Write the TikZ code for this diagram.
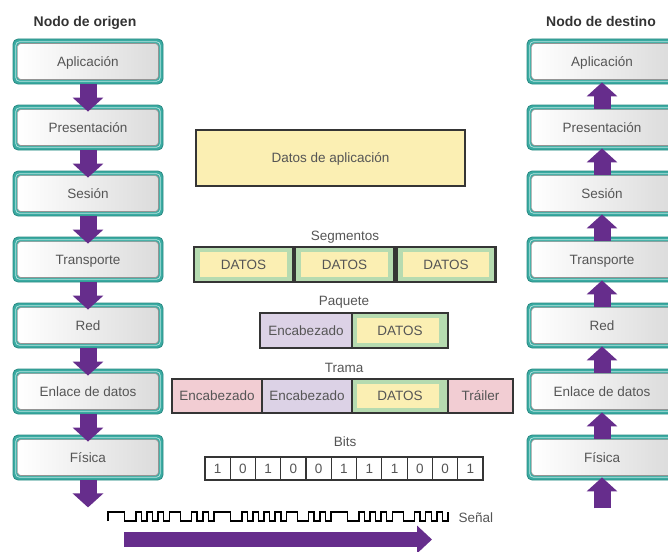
\documentclass[tikz,border=0pt]{standalone}
\usepackage{fontspec}
\setmainfont{Liberation Sans}
\usetikzlibrary{calc,arrows.meta}

\definecolor{tealband}{HTML}{3AABA2}
\definecolor{tealedge}{HTML}{2A8A83}
\definecolor{teallight}{HTML}{BCE5E1}
\definecolor{arrowpurple}{HTML}{662D8C}
\definecolor{datayellow}{HTML}{FBEFB3}
\definecolor{segmentgreen}{HTML}{B6DBB0}
\definecolor{headerlilac}{HTML}{DCD2E6}
\definecolor{headerpink}{HTML}{F2CDD3}
\definecolor{labelgray}{HTML}{555555}
\definecolor{framegray}{HTML}{353535}
\definecolor{titlegray}{HTML}{333333}

\begin{document}
\begin{tikzpicture}[x=1pt,y=-1pt,
  txt/.style={font=\fontsize{13.5}{16}\selectfont, text=labelgray},
  title/.style={font=\fontsize{14}{16}\selectfont\bfseries, text=titlegray},
  layer/.style={txt, rectangle, rounded corners=5pt, minimum width=150pt,
    minimum height=45pt, inner sep=0pt, text height=9.7pt, text depth=0pt,
    fill=tealband, draw=tealedge, line width=0.8pt,
    path picture={
      \draw[teallight, line width=0.7pt, rounded corners=3.5pt]
        ($(path picture bounding box.south west)+(2.8pt,2.8pt)$) rectangle
        ($(path picture bounding box.north east)+(-2.8pt,-2.8pt)$);
      \shadedraw[left color=white, right color=black!14, draw=black!42,
        line width=0.7pt, rounded corners=3pt]
        ($(path picture bounding box.south west)+(4.6pt,4.6pt)$) rectangle
        ($(path picture bounding box.north east)+(-4.6pt,-4.6pt)$);
    }},
  blkarrow/.style={arrowpurple, line width=17pt,
    -{Triangle[width=30pt,length=14pt]}},
  field/.style={txt, rectangle, draw=framegray, line width=1.8pt,
    inner sep=0pt, text height=9.7pt, text depth=0pt},
  datafield/.style={field, fill=segmentgreen,
    path picture={
      \fill[datayellow]
        ($(path picture bounding box.south west)+(4.6pt,4.6pt)$) rectangle
        ($(path picture bounding box.north east)+(-9pt,-4.6pt)$);
    }},
  segfield/.style={field, fill=segmentgreen, line width=2.2pt,
    minimum width=99pt, minimum height=35pt,
    path picture={
      \fill[datayellow]
        ($(path picture bounding box.south west)+(6pt,5pt)$) rectangle
        ($(path picture bounding box.north east)+(-6.5pt,-5pt)$);
    }},
  bitcell/.style={txt, rectangle, draw=framegray, line width=1.2pt,
    minimum width=25.27pt, minimum height=23pt, inner sep=0pt,
    text height=9.7pt, text depth=0pt},
]
\useasboundingbox (0,0) rectangle (668,551);
\clip (0,0) rectangle (668,551);

% ---------- headings ----------
\node[title, anchor=base] (srctitle) at (85,27) {Nodo de origen};
\node[title, anchor=base] (dsttitle) at (601,27) {Nodo de destino};

% ---------- protocol stacks ----------
\foreach \name [count=\k from 0] in {Aplicación,Presentación,Sesión,Transporte,Red,Enlace de datos,Física} {
  \node[layer] (l\k) at (88,{61.5+66*\k}) {\name};
  \node[layer] (r\k) at (602,{61.5+66*\k}) {\name};
}

% sending side: data travels down the stack
\foreach \k [evaluate=\k as \n using int(\k+1)] in {0,...,5} {
  \draw[blkarrow] (l\k.south) -- ($(l\n.north)+(0,7)$);
}
\coordinate (lout) at ($(l6.south)+(0,27)$);
\draw[blkarrow] (l6.south) -- (lout);

% receiving side: data travels up the stack
\foreach \k [evaluate=\k as \n using int(\k+1)] in {0,...,5} {
  \draw[blkarrow] ($(r\n.north)+(0,4)$) -- ($(r\k.south)+(0,-2)$);
}
\coordinate (rin) at ($(r6.south)+(0,28)$);
\draw[blkarrow] (rin) -- ($(r6.south)+(0,-3)$);

% ---------- application data ----------
\node[field, fill=datayellow, line width=1.8pt, minimum width=269pt,
  minimum height=56pt] (appdata) at (330.5,158) {Datos de aplicación};

% ---------- segments ----------
\node[txt, anchor=base] (seglabel) at (345,240) {Segmentos};
\node[segfield] (seg1) at (243.5,264.5) {DATOS};
\node[segfield] (seg2) at (344.5,264.5) {DATOS};
\node[segfield] (seg3) at (446,264.5) {DATOS};

% ---------- packet ----------
\node[txt, anchor=base] (pktlabel) at (344,305.5) {Paquete};
\node[field, fill=headerlilac, minimum width=92pt, minimum height=35pt]
  (pkthdr) at (306,330.5) {Encabezado};
\node[datafield, minimum width=96pt, minimum height=35pt]
  (pktdata) at (400,330.5) {DATOS};

% ---------- frame ----------
\node[txt, anchor=base] (frmlabel) at (344,372) {Trama};
\node[field, fill=headerpink, minimum width=90pt, minimum height=34pt]
  (frmhdr) at (217,396) {Encabezado};
\node[field, fill=headerlilac, minimum width=90pt, minimum height=34pt]
  (frmpkt) at (307,396) {Encabezado};
\node[datafield, minimum width=96pt, minimum height=34pt]
  (frmdata) at (400,396) {DATOS};
\node[field, fill=headerpink, minimum width=65pt, minimum height=34pt]
  (frmtrl) at (480.5,396) {Tráiler};

% ---------- bits ----------
\node[txt, anchor=base] (bitlabel) at (345,446.5) {Bits};
\foreach \b [count=\i] in {1,0,1,0,0,1,1,1,0,0,1} {
  \node[bitcell] (b\i) at ({205+25.27*(\i-0.5)},468.5) {\b};
}

% ---------- line signal (u = 340/61) ----------
\def\u{5.574}
\coordinate (sig0) at (108,521);
\draw[black, line width=1.5pt, line join=miter] (sig0) -- ++(0,-9)
  \foreach \h/\l in {3/2,1/1,1/1,1/1,
                     2/2,1/1,1/1,
                     3/2,1/1,1/1,1/1,1/1,
                     2/2,1/1,1/1,
                     3/2,1/1,1/1,1/1,
                     2/2,1/1,1/1,1/1} {
    -- ++(\h*\u,0) -- ++(0,9) -- ++(\l*\u,0) -- ++(0,-9)
  };
\node[txt, anchor=base west] (siglabel) at (455,522) {Señal};

% ---------- transmission arrow ----------
\coordinate (txstart) at (124,539.5);
\coordinate (txend) at (432,539.5);
\draw[arrowpurple, line width=15pt, -{Triangle[width=27pt,length=15pt]}]
  (txstart) -- (txend);
\end{tikzpicture}
\end{document}
